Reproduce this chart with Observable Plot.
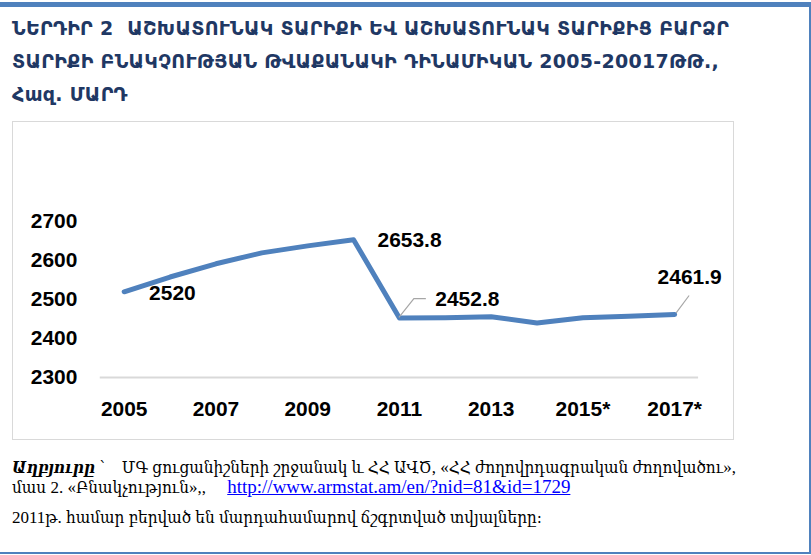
<!DOCTYPE html>
<html><head><meta charset="utf-8">
<script src="https://cdn.jsdelivr.net/npm/d3@7"></script>
<script src="https://cdn.jsdelivr.net/npm/@observablehq/plot@0.6"></script>
<style>
html,body{margin:0;padding:0;background:#fff;}
#page{position:relative;width:811px;height:555px;overflow:hidden;background:#fff;}
#frame{position:absolute;left:-10px;top:2px;width:821px;height:552px;border-top:5px solid #4f81bd;border-right:2px solid #4f81bd;border-bottom:2px solid #4f81bd;box-sizing:border-box;}
#title{position:absolute;left:12px;top:12px;font-family:"DejaVu Sans",sans-serif;font-weight:bold;color:#1f3864;font-size:19px;letter-spacing:0.3px;line-height:33px;white-space:nowrap;}
#chart{position:absolute;left:12px;top:121px;width:722px;height:319px;border:1px solid #d9d9d9;box-sizing:border-box;}
#chart svg{position:absolute;left:-1px;top:-1px;}
#source{position:absolute;left:12px;top:458px;font-family:"Liberation Serif","DejaVu Serif Condensed","DejaVu Serif",serif;font-size:17px;color:#000;white-space:nowrap;}
#source div{height:19px;line-height:19px;}
#source .l3{margin-top:12px;}
#source a{color:#0000ff;text-decoration:underline;font-size:19px;line-height:19px;}
</style></head>
<body>
<div id="page">
  <div id="frame"></div>
  <div id="title">
    <div>ՆԵՐԴԻՐ 2&nbsp; ԱՇԽԱՏՈՒՆԱԿ ՏԱՐԻՔԻ ԵՎ ԱՇԽԱՏՈՒՆԱԿ ՏԱՐԻՔԻՑ ԲԱՐՁՐ</div>
    <div>ՏԱՐԻՔԻ ԲՆԱԿՉՈՒԹՅԱՆ ԹՎԱՔԱՆԱԿԻ ԴԻՆԱՄԻԿԱՆ 2005-20017ԹԹ.,</div>
    <div>Հազ. ՄԱՐԴ</div>
  </div>
  <div id="chart"></div>
  <div id="source">
    <div class="l1"><b><i>Աղբյուրը</i></b> ՝&nbsp;&nbsp;&nbsp; ՄԳ ցուցանիշների շրջանակ և ՀՀ ԱՎԾ, «ՀՀ ժողովրդագրական ժողովածու»,</div>
    <div class="l2">մաս 2. «Բնակչություն»,,&nbsp;&nbsp;&nbsp;&nbsp; <a>http://www.armstat.am/en/?nid=81&amp;id=1729</a></div>
    <div class="l3">2011թ. համար բերված են մարդահամարով ճշգրտված տվյալները։</div>
  </div>
</div>
<script>
// ---- data ----
const years = ["2005","2006","2007","2008","2009","2010","2011","2012","2013","2014","2015","2016","2017"];
const values = [2520, 2558, 2592, 2620, 2638, 2653.8, 2452.8, 2453.5, 2456, 2440, 2453.5, 2457.5, 2461.9];
const xTicks = ["2005","2007","2009","2011","2013","2015","2017"];
const xTickLabels = ["2005","2007","2009","2011","2013","2015*","2017*"];
const yTicks = [2300, 2400, 2500, 2600, 2700];
const labelYears = ["2005","2010","2011","2017"];
const labelTexts = ["2520","2653.8","2452.8","2461.9"];

const data = years.map((year, i) => ({year, value: values[i]}));
const labels = labelYears.map((year, i) => ({year, value: values[years.indexOf(year)], text: labelTexts[i]}));
const byYear = y => labels.filter(d => d.year === y);

const blue = "#4f81bd";
const font = {fontSize: 21, fontWeight: "bold", fill: "#000"};

// leader lines (pixel offsets from the labelled point)
const leaderShapes = {"2011": [[0,0],[15,-19],[27,-19]], "2017": [[2,-1],[15,-18.5]]};
function leaders(index, scales) {
  const g = d3.create("svg:g").attr("fill","none").attr("stroke","#a6a6a6").attr("stroke-width",1.2);
  for (const d of labels) {
    const pts = leaderShapes[d.year];
    if (!pts) continue;
    const px = scales.x(d.year), py = scales.y(d.value);
    g.append("path").attr("d", d3.line()(pts.map(([a,b]) => [px + a, py + b])));
  }
  return g.node();
}

const tickLabel = new Map(xTicks.map((t, i) => [t, xTickLabels[i]]));

const chart = Plot.plot({
  width: 722,
  height: 319,
  marginLeft: 88,
  marginRight: 34,
  marginTop: 100.5,
  marginBottom: 62.3,
  style: {fontFamily: "'Liberation Sans', Arial, sans-serif", background: "transparent", overflow: "visible"},
  x: {type: "point", domain: years, padding: 0.5, label: null},
  y: {domain: [2300, 2700], label: null},
  marks: [
    Plot.ruleY([2300], {stroke: "#d9d9d9", strokeWidth: 2}),
    Plot.axisY({ticks: yTicks, tickFormat: d => String(d), tickSize: 0, tickPadding: 23, label: null, ...font}),
    Plot.axisX({ticks: xTicks, tickFormat: t => tickLabel.get(t), tickSize: 0, tickPadding: 24, label: null, ...font}),
    Plot.line(data, {x: "year", y: "value", stroke: blue, strokeWidth: 5, strokeLinejoin: "round", strokeLinecap: "round"}),
    leaders,
    Plot.text(byYear("2005"), {x: "year", y: "value", text: "text", textAnchor: "start", dx: 25, dy: 1.5, ...font}),
    Plot.text(byYear("2010"), {x: "year", y: "value", text: "text", textAnchor: "start", dx: 24, dy: 0.5, ...font}),
    Plot.text(byYear("2011"), {x: "year", y: "value", text: "text", textAnchor: "start", dx: 36, dy: -19, ...font}),
    Plot.text(byYear("2017"), {x: "year", y: "value", text: "text", textAnchor: "middle", dx: 15, dy: -37, ...font})
  ]
});
document.getElementById("chart").appendChild(chart);
</script>
</body></html>
